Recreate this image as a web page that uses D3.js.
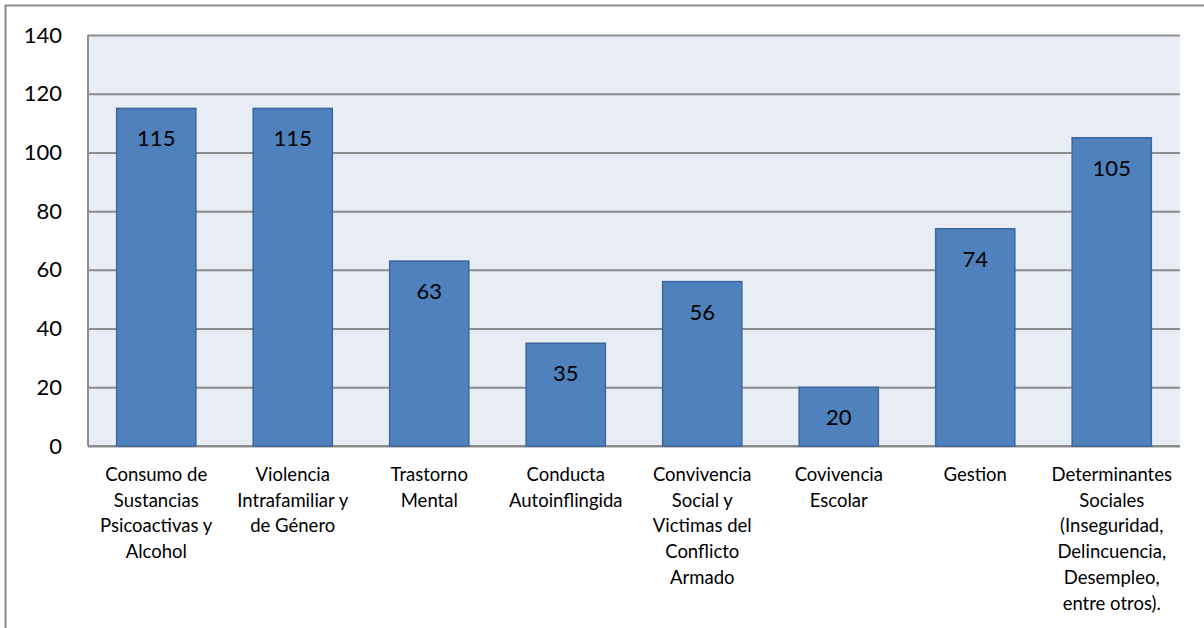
<!DOCTYPE html>
<html><head><meta charset="utf-8">
<script src="https://cdn.jsdelivr.net/npm/d3@7"></script>
<style>body{margin:0;background:#fff}svg{display:block}</style>
</head><body><svg id="c" width="1204" height="628"></svg>
<script>
const categories = [
  ["Consumo de","Sustancias","Psicoactivas y","Alcohol"],
  ["Violencia","Intrafamiliar y","de Género"],
  ["Trastorno","Mental"],
  ["Conducta","Autoinflingida"],
  ["Convivencia","Social y","Victimas del","Conflicto","Armado"],
  ["Covivencia","Escolar"],
  ["Gestion"],
  ["Determinantes","Sociales","(Inseguridad,","Delincuencia,","Desempleo,","entre otros)."]
];
const values = [115,115,63,35,56,20,74,105];
const yTicks = [0,20,40,60,80,100,120,140];

const font = "Lato, 'Open Sans', sans-serif";
const svg = d3.select("#c");
const m = {l:88, t:35, r:1180, b:446};
svg.append("rect").attr("x",5.5).attr("y",5.5).attr("width",1210).attr("height",640)
  .attr("fill","#fff").attr("stroke","#8c8c8c").attr("stroke-width",2);

const x = d3.scaleBand().domain(d3.range(values.length)).range([m.l,m.r]).paddingInner(0.42).paddingOuter(0.21);
const y = d3.scaleLinear().domain([0,140]).range([m.b,m.t]);

svg.append("rect").attr("x",m.l).attr("y",m.t).attr("width",m.r-m.l).attr("height",m.b-m.t).attr("fill","#E8ECF4");

const ya = svg.append("g").attr("transform",`translate(${m.l},0)`)
  .call(d3.axisLeft(y).tickValues(yTicks).tickSize(-(m.r-m.l)).tickPadding(26));
ya.select(".domain").remove();
ya.selectAll(".tick line").attr("stroke","#8c8c8c").attr("stroke-width",2);
ya.selectAll(".tick text").attr("font-family",font).attr("font-size",22).attr("fill","#000");

svg.append("line").attr("x1",m.l).attr("x2",m.l).attr("y1",m.t).attr("y2",m.b).attr("stroke","#8c8c8c").attr("stroke-width",2);
svg.append("line").attr("x1",m.l).attr("x2",m.r).attr("y1",m.b).attr("y2",m.b).attr("stroke","#8c8c8c").attr("stroke-width",2);

svg.selectAll("rect.bar").data(values).join("rect").attr("class","bar")
  .attr("x",(d,i)=>x(i)).attr("y",d=>y(d)).attr("width",x.bandwidth()).attr("height",d=>y(0)-y(d))
  .attr("fill","#4F81BD").attr("stroke","#3A679C").attr("stroke-width",1.5);

svg.selectAll("text.val").data(values).join("text").attr("class","val")
  .attr("x",(d,i)=>x(i)+x.bandwidth()/2).attr("y",d=>y(d)+38)
  .attr("text-anchor","middle").attr("font-family",font).attr("font-size",22).attr("fill","#000")
  .text(d=>d);

const cl = svg.selectAll("text.cat").data(categories).join("text").attr("class","cat")
  .attr("text-anchor","middle").attr("font-family",font).attr("font-size",18.5).attr("fill","#000");
cl.each(function(lines,i){
  d3.select(this).selectAll("tspan").data(lines).join("tspan")
    .attr("x",x(i)+x.bandwidth()/2).attr("y",(d,j)=>481+j*25.7).text(d=>d);
});
</script></body></html>
